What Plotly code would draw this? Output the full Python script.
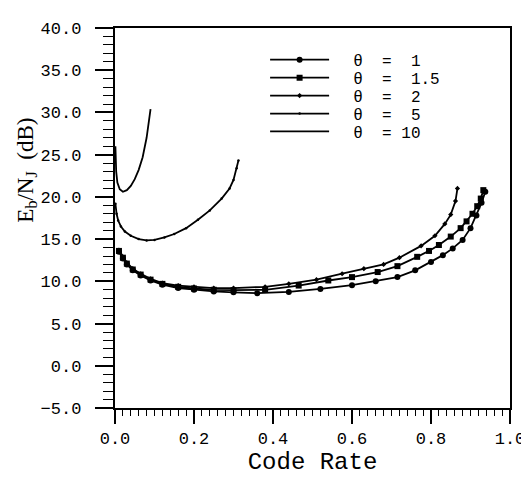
import plotly.graph_objects as go

# Eb/NJ (dB) versus code rate, one curve per theta value
theta_labels = ["1", "1.5", "2", "5", "10"]

rate_t1 = [0.01, 0.02, 0.03, 0.045, 0.065, 0.09, 0.12, 0.16, 0.2, 0.25, 0.3, 0.36, 0.44,
           0.52, 0.6, 0.66, 0.715, 0.76, 0.8, 0.83, 0.855, 0.88, 0.9, 0.915, 0.928, 0.9375]
ebnj_t1 = [13.5, 12.7, 12.0, 11.3, 10.7, 10.1, 9.6, 9.2, 9.0, 8.8, 8.7, 8.6, 8.75,
           9.1, 9.55, 10.0, 10.5, 11.3, 12.3, 13.1, 13.9, 14.9, 16.3, 17.8, 19.3, 20.6]

rate_t15 = [0.01, 0.02, 0.03, 0.045, 0.065, 0.09, 0.12, 0.16, 0.2, 0.25, 0.3, 0.38, 0.465,
            0.54, 0.6, 0.665, 0.715, 0.765, 0.795, 0.82, 0.85, 0.875, 0.89, 0.905, 0.917, 0.926, 0.9325]
ebnj_t15 = [13.6, 12.8, 12.1, 11.4, 10.8, 10.2, 9.7, 9.35, 9.15, 9.0, 8.95, 9.0, 9.5,
            10.1, 10.5, 11.1, 11.8, 12.9, 13.6, 14.3, 15.3, 16.3, 17.1, 18.0, 18.9, 19.8, 20.8]

rate_t2 = [0.01, 0.02, 0.03, 0.045, 0.065, 0.09, 0.12, 0.16, 0.2, 0.25, 0.3, 0.38, 0.44,
           0.51, 0.575, 0.63, 0.68, 0.72, 0.775, 0.81, 0.835, 0.85, 0.862, 0.867]
ebnj_t2 = [13.7, 12.9, 12.2, 11.5, 10.9, 10.3, 9.8, 9.5, 9.35, 9.2, 9.2, 9.35, 9.7,
           10.2, 10.9, 11.5, 12.0, 12.8, 14.2, 15.4, 16.8, 17.9, 19.5, 21.0]

rate_t5 = [0.001, 0.004, 0.008, 0.015, 0.025, 0.04, 0.06, 0.08, 0.1, 0.125, 0.15, 0.18,
           0.21, 0.24, 0.27, 0.29, 0.30, 0.308, 0.3125]
ebnj_t5 = [19.2, 18.0, 17.2, 16.5, 15.9, 15.4, 15.0, 14.85, 14.9, 15.2, 15.6, 16.3,
           17.3, 18.4, 19.8, 21.0, 22.0, 23.4, 24.3]

rate_t10 = [0.001, 0.003, 0.006, 0.012, 0.02, 0.03, 0.04, 0.05, 0.06, 0.07, 0.08, 0.086, 0.09]
ebnj_t10 = [26.0, 23.0, 21.7, 20.9, 20.6, 20.8, 21.3, 22.1, 23.2, 24.7, 27.0, 28.8, 30.4]

rates = [rate_t1, rate_t15, rate_t2, rate_t5, rate_t10]
ebnjs = [ebnj_t1, ebnj_t15, ebnj_t2, ebnj_t5, ebnj_t10]

modes = ["lines+markers", "lines+markers", "lines+markers", "lines+markers", "lines"]
symbols = ["circle", "square", "diamond", "circle", "circle"]
msizes = [6, 6, 4, 2.5, 1]
legend_ids = ["legend", "legend2", "legend3", "legend4", "legend5"]

fig = go.Figure()
for i in range(5):
    pad = "\u00a0" if len(theta_labels[i].split(".")[0]) == 1 else ""
    label = "\u00a0\u00a0θ\u00a0\u00a0=\u00a0" + pad + theta_labels[i]
    fig.add_trace(go.Scatter(
        x=rates[i], y=ebnjs[i], mode=modes[i], name=label,
        line=dict(color="black", width=1.8),
        marker=dict(symbol=symbols[i], size=msizes[i], color="black"),
        legend=legend_ids[i], showlegend=True,
    ))

legend_font = dict(family="Liberation Mono", size=16, color="black")
top = 0.961
step = 0.0472
for i, lid in enumerate(legend_ids):
    fig.update_layout({lid: dict(x=0.38, y=top - i * step, xanchor="left", yanchor="top",
                                 bgcolor="rgba(0,0,0,0)", font=legend_font, itemwidth=59,
                                 borderwidth=0)})

tick_font = dict(family="Liberation Mono", size=17, color="black")
fig.update_xaxes(
    range=[0, 1], dtick=0.2, tick0=0, tickformat=".1f",
    ticks="outside", ticklen=14, tickwidth=1.5, tickcolor="black",
    minor=dict(dtick=0.02, ticks="outside", ticklen=6, tickwidth=1, tickcolor="black"),
    showline=True, linecolor="black", linewidth=2, mirror=True,
    showgrid=False, zeroline=False, tickfont=tick_font,
    title=dict(text="Code Rate", font=dict(family="Liberation Mono", size=24, color="black"), standoff=0),
)
fig.update_yaxes(
    range=[-5, 40], dtick=5, tick0=0, tickformat=".1f", ticksuffix="\u00a0",
    ticks="outside", ticklen=18, tickwidth=1.5, tickcolor="black",
    minor=dict(dtick=1, ticks="outside", ticklen=10, tickwidth=1, tickcolor="black"),
    showline=True, linecolor="black", linewidth=2, mirror=True,
    showgrid=False, zeroline=False, tickfont=tick_font,
)
# y-axis title as a rotated annotation so it sits where the original does
fig.add_annotation(
    text="E<sub>b</sub>/N<sub>J</sub>\u00a0\u00a0(dB)", textangle=-90,
    xref="paper", yref="paper", x=-0.225, y=0.625, xanchor="center", yanchor="middle",
    showarrow=False, font=dict(family="Liberation Serif", size=23, color="black"),
)
fig.update_layout(
    width=529, height=479, showlegend=True,
    margin=dict(l=107, r=22, t=12, b=79),
    plot_bgcolor="white", paper_bgcolor="white",
)
fig.write_html("out.html")
